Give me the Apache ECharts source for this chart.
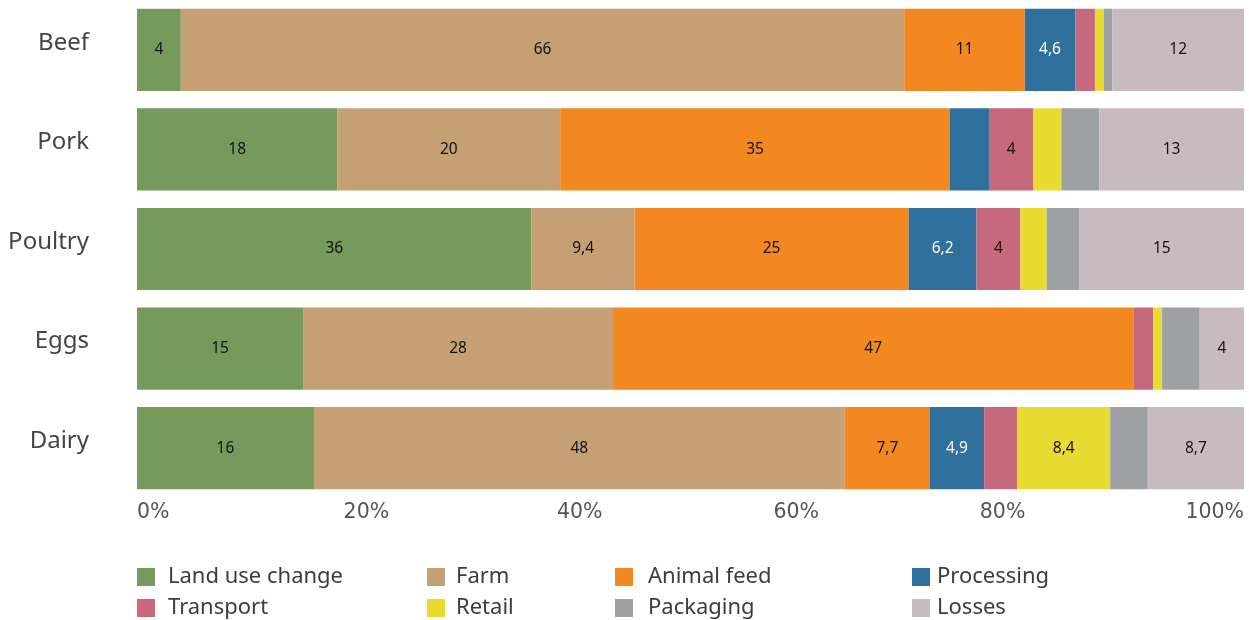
<!DOCTYPE html>
<html>
<head>
<meta charset="utf-8">
<script src="https://cdn.jsdelivr.net/npm/echarts@6/dist/echarts.min.js"></script>
<style>
  html, body { margin: 0; padding: 0; background: #fff; }
  #chart { width: 1249px; height: 620px; }
</style>
</head>
<body>
<div id="chart"></div>
<script>
// Food products, share of emissions by supply-chain stage
const categories = ['Beef', 'Pork', 'Poultry', 'Eggs', 'Dairy'];
const stageNames = ['Land use change', 'Farm', 'Animal feed', 'Processing',
                    'Transport', 'Retail', 'Packaging', 'Losses'];

const landUse    = [4, 18, 36, 15, 16];
const farm       = [66, 20, 9.4, 28, 48];
const animalFeed = [11, 35, 25, 47, 7.7];
const processing = [4.6, 3.5, 6.2, 0, 4.9];
const transport  = [1.8, 4, 4, 1.8, 3.0];
const retail     = [0.8, 2.5, 2.4, 0.8, 8.4];
const packaging  = [0.8, 3.4, 3.0, 3.4, 3.4];
const losses     = [12, 13, 15, 4, 8.7];

// which segments carry a value label
const labelled = [
  [1, 1, 1, 1, 1],
  [1, 1, 1, 1, 1],
  [1, 1, 1, 1, 1],
  [1, 0, 1, 0, 1],
  [0, 1, 1, 0, 0],
  [0, 0, 0, 0, 1],
  [0, 0, 0, 0, 0],
  [1, 1, 1, 1, 1]
];

const tickLabels = ['0%', '20%', '40%', '60%', '80%', '100%'];

const stageValues = [landUse, farm, animalFeed, processing, transport, retail, packaging, losses];
const colors = ['#759a5c', '#c6a075', '#f38820', '#2f709d', '#c6697d', '#e8dc31', '#9ea0a3', '#c8bbc0'];
const labelColors = ['#111', '#111', '#111', '#fff', '#111', '#111', '#111', '#111'];

// totals per product so every bar spans 100%
const totals = categories.map((_, i) => stageValues.reduce((s, arr) => s + arr[i], 0));

const fmt = v => String(v).replace('.', ',');

const series = stageNames.map((name, s) => ({
  name: name,
  type: 'bar',
  stack: 'total',
  barCategoryGap: '17.5%',
  itemStyle: { color: colors[s] },
  emphasis: { disabled: true },
  data: stageValues[s].map((v, i) => ({
    value: v / totals[i] * 100,
    label: {
      show: !!labelled[s][i] && v > 0,
      position: 'inside',
      color: labelColors[s],
      fontSize: 15.5,
      fontFamily: 'Noto Sans',
      formatter: () => fmt(v)
    }
  }))
}));

// legend laid out as a 4 x 2 grid
const legendCols = [137, 427, 615, 912];
const legendTextGap = [8, 6, 10, 2];
const legendRows = [566, 597];
const legends = stageNames.map((name, k) => ({
  data: [name],
  left: legendCols[k % 4],
  top: legendRows[Math.floor(k / 4)],
  padding: 0,
  icon: 'rect',
  itemWidth: 18,
  itemHeight: 18,
  itemGap: 0,
  selectedMode: false,
  textStyle: {
    fontFamily: 'Noto Sans',
    fontSize: 22,
    color: '#3c3c3c',
    padding: [0, 0, 0, legendTextGap[k % 4]]
  }
}));

// small nudges for the percent labels along the bottom
const tickRich = {
  t0: {}, t1: { padding: [0, 0, 0, 16] }, t2: {}, t3: { padding: [0, 10, 0, 0] },
  t4: { padding: [0, 40, 0, 0] }, t5: {}
};
Object.values(tickRich).forEach(r => Object.assign(r, {
  fontFamily: 'DejaVu Sans', fontSize: 20.5, color: '#555'
}));

const chart = echarts.init(document.getElementById('chart'), null, { renderer: 'canvas' });
chart.setOption({
  animation: false,
  color: colors,
  grid: { left: 137, right: 5, top: 0, height: 498, containLabel: false },
  legend: legends,
  xAxis: {
    type: 'value',
    min: 0,
    max: 100,
    interval: 20,
    axisLine: { show: false },
    axisTick: { show: false },
    splitLine: { show: false },
    axisLabel: {
      margin: 4,
      fontFamily: 'DejaVu Sans',
      fontSize: 20.5,
      color: '#555',
      alignMinLabel: 'left',
      alignMaxLabel: 'right',
      rich: tickRich,
      formatter: v => {
        const k = Math.round(v / 20);
        return '{t' + k + '|' + tickLabels[k] + '}';
      }
    }
  },
  yAxis: {
    type: 'category',
    data: categories,
    inverse: true,
    axisLine: { show: false },
    axisTick: { show: false },
    splitLine: { show: false },
    axisLabel: {
      margin: 48,
      fontFamily: 'Noto Sans',
      fontSize: 24,
      color: '#444',
      verticalAlign: 'bottom',
      lineHeight: 14
    }
  },
  series: series
});
</script>
</body>
</html>
